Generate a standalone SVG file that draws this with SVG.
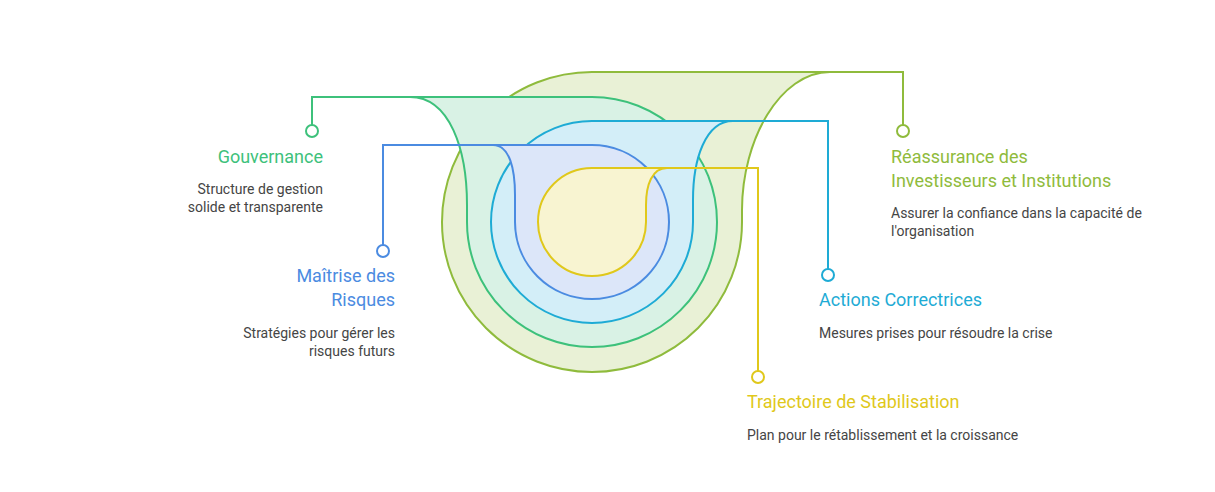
<svg xmlns="http://www.w3.org/2000/svg" width="1215" height="492" viewBox="0 0 1215 492">
<style>
.s{stroke-width:2;stroke-linejoin:round}
.c{fill:none;stroke-width:2}
.d{fill:#fff;stroke-width:2}
text{font-family:"Roboto","Liberation Sans",sans-serif}
.t{font-size:18px}
.x{font-size:14px;fill:#454545}
.r{text-anchor:end}
</style>
<rect width="1215" height="492" fill="#fff"/>
<g id="olive"><path class="s" fill="#e9f1d6" stroke="#8fbb3c" d="M592,72 L830,72 C780,72 742,140 742,210 L742,222 A150,150 0 1 1 592,72 Z"/></g>
<g id="green"><path class="s" fill="#d9f2e5" stroke="#3dc17b" d="M592,97 L410,97 C450,97 467,150 467,205 L467,222 A125,125 0 1 0 592,97 Z"/></g>
<g id="cyan"><path class="s" fill="#d3eef8" stroke="#1eabd5" d="M592,121 L733,121 C705,121 693,160 693,200 L693,222 A101,101 0 1 1 592,121 Z"/></g>
<g id="blue"><path class="s" fill="#dce6f9" stroke="#4b8be1" d="M592,145 L493,145 C510,145 515,170 515,195 L515,222 A77,77 0 1 0 592,145 Z"/></g>
<g id="yellow"><path class="s" fill="#f8f4d1" stroke="#e0c81b" d="M592,168 L667,168 C652,168 646,185 646,205 L646,222 A54,54 0 1 1 592,168 Z"/></g>
<g id="connectors">
<path class="c" stroke="#3dc17b" d="M410,97 H312 V125"/><circle class="d" stroke="#3dc17b" cx="312" cy="131" r="6"/>
<path class="c" stroke="#8fbb3c" d="M830,72 H903 V125"/><circle class="d" stroke="#8fbb3c" cx="903" cy="131" r="6"/>
<path class="c" stroke="#4b8be1" d="M493,145 H383 V245"/><circle class="d" stroke="#4b8be1" cx="383" cy="251" r="6"/>
<path class="c" stroke="#1eabd5" d="M733,121 H828 V269"/><circle class="d" stroke="#1eabd5" cx="828" cy="275" r="6"/>
<path class="c" stroke="#e0c81b" d="M667,168 H758 V371"/><circle class="d" stroke="#e0c81b" cx="758" cy="377" r="6"/>
</g>
<g id="t-gouv"><text class="t r" x="323" y="163" fill="#3dc17b">Gouvernance</text>
<text class="x r" x="323" y="194">Structure de gestion</text><text class="x r" x="323" y="212">solide et transparente</text></g>
<g id="t-maitrise"><text class="t r" x="395" y="282" fill="#4b8be1">Maîtrise des</text><text class="t r" x="395" y="306" fill="#4b8be1">Risques</text>
<text class="x r" x="395" y="338">Stratégies pour gérer les</text><text class="x r" x="395" y="356">risques futurs</text></g>
<g id="t-reass"><text class="t" x="891" y="163" fill="#8fbb3c">Réassurance des</text><text class="t" x="891" y="187" fill="#8fbb3c">Investisseurs et Institutions</text>
<text class="x" x="891" y="218">Assurer la confiance dans la capacité de</text><text class="x" x="891" y="236">l'organisation</text></g>
<g id="t-actions"><text class="t" x="819" y="306" fill="#1eabd5">Actions Correctrices</text>
<text class="x" x="819" y="338">Mesures prises pour résoudre la crise</text></g>
<g id="t-traj"><text class="t" x="747" y="408" fill="#e0c81b">Trajectoire de Stabilisation</text>
<text class="x" x="747" y="440">Plan pour le rétablissement et la croissance</text></g>
</svg>
